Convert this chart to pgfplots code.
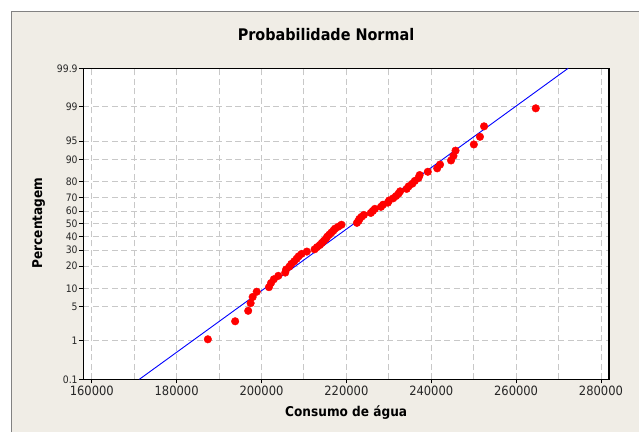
\documentclass[border=0pt]{standalone}
\usepackage{pgfplots}
\pgfplotsset{compat=1.18}
\usepackage{fontspec}
\setmainfont{DejaVu Sans Condensed}
\definecolor{bgbeige}{RGB}{240,237,230}
\definecolor{gridgray}{RGB}{200,200,200}
\definecolor{framegray}{RGB}{130,130,130}
\begin{document}
\begin{tikzpicture}[x=1bp,y=1bp]
\fill[white] (0,0) rectangle (639,432);
\fill[bgbeige] (11,0) rectangle (639,420);
\draw[framegray, line width=1bp] (11,0) -- (11,420) -- (639,420);
\begin{axis}[
  at={(83.3bp,52.7bp)}, anchor=south west,
  scale only axis, width=525.7bp, height=311bp,
  xmin=158000, xmax=281900, ymin=-3.0902, ymax=3.0902,
  axis background/.style={fill=white},
  axis line style={black, line width=1.1bp},
  tick align=outside, major tick length=4bp, minor tick length=0bp,
  xtick pos=bottom, ytick pos=left,
  tick style={black, line width=0.8bp},
  xtick={160000,180000,200000,220000,240000,260000,280000},
  xticklabels={160000,180000,200000,220000,240000,260000,280000},
  minor xtick={170000,190000,210000,230000,250000,270000},
  scaled x ticks=false,
  ytick={-3.0902,-2.3263,-1.6449,-1.2816,-0.8416,-0.5244,-0.2533,0,0.2533,0.5244,0.8416,1.2816,1.6449,2.3263,3.0902},
  yticklabels={0.1,1,5,10,20,30,40,50,60,70,80,90,95,99,99.9},
  xmajorgrids, ymajorgrids, xminorgrids,
  major grid style={gridgray, dash pattern=on 6bp off 3.5bp, line width=0.9bp},
  minor grid style={gridgray, dash pattern=on 6bp off 3.5bp, line width=0.9bp},
  xticklabel style={font=\fontsize{12.8bp}{14bp}\selectfont, text=black!85, inner sep=2bp},
  yticklabel style={font=\fontsize{10.3bp}{12bp}\selectfont, text=black!85, inner sep=1.5bp},
  /pgf/number format/assume math mode=true,
  title={Probabilidade Normal},
  title style={font=\bfseries\fontsize{16bp}{18bp}\selectfont, at={(axis description cs:0.4617,1.0878)}, anchor=center},
  xlabel={Consumo de água},
  xlabel style={font=\bfseries\fontsize{13.5bp}{16bp}\selectfont, at={(axis description cs:0.5,-0.108)}, anchor=center},
  ylabel={Percentagem},
  ylabel style={font=\bfseries\fontsize{13.5bp}{16bp}\selectfont, at={(axis description cs:-0.0848,0.5026)}, anchor=center},
]
\addplot[blue, line width=0.9bp] coordinates {(171213,-3.0902) (272274,3.0902)};
\addplot[only marks, mark=*, mark size=3.8bp, color=red, mark options={fill=red, draw=red}] coordinates {
(187356,-2.295) (193788,-1.937) (196860,-1.729) (197436,-1.577) (197916,-1.454)
(198876,-1.350) (201756,-1.259) (202236,-1.177) (202908,-1.102) (203964,-1.034)
(205596,-0.969) (205788,-0.909) (206556,-0.852) (207036,-0.797) (207708,-0.745)
(208284,-0.694) (208764,-0.645) (209436,-0.598) (210684,-0.552) (212508,-0.507)
(213084,-0.464) (213756,-0.421) (214236,-0.379) (214716,-0.337) (215196,-0.297)
(215484,-0.256) (215964,-0.216) (216444,-0.176) (216924,-0.137) (217308,-0.097)
(218076,-0.058) (218844,-0.019) (222492,0.019) (222876,0.058) (223068,0.097)
(223548,0.137) (224124,0.176) (225756,0.216) (226236,0.256) (226716,0.297)
(228156,0.337) (228636,0.379) (229788,0.421) (230076,0.464) (231036,0.507)
(231708,0.552) (232284,0.598) (232668,0.645) (234204,0.694) (234684,0.745)
(235548,0.797) (236124,0.852) (236988,0.909) (237276,0.969) (239196,1.034)
(241404,1.102) (242076,1.177) (244668,1.259) (245244,1.350) (245724,1.454)
(250044,1.577) (251484,1.729) (252444,1.937) (264636,2.295)
};
\end{axis}
\pgfresetboundingbox
\useasboundingbox (0,0) rectangle (639,432);
\end{tikzpicture}
\end{document}
